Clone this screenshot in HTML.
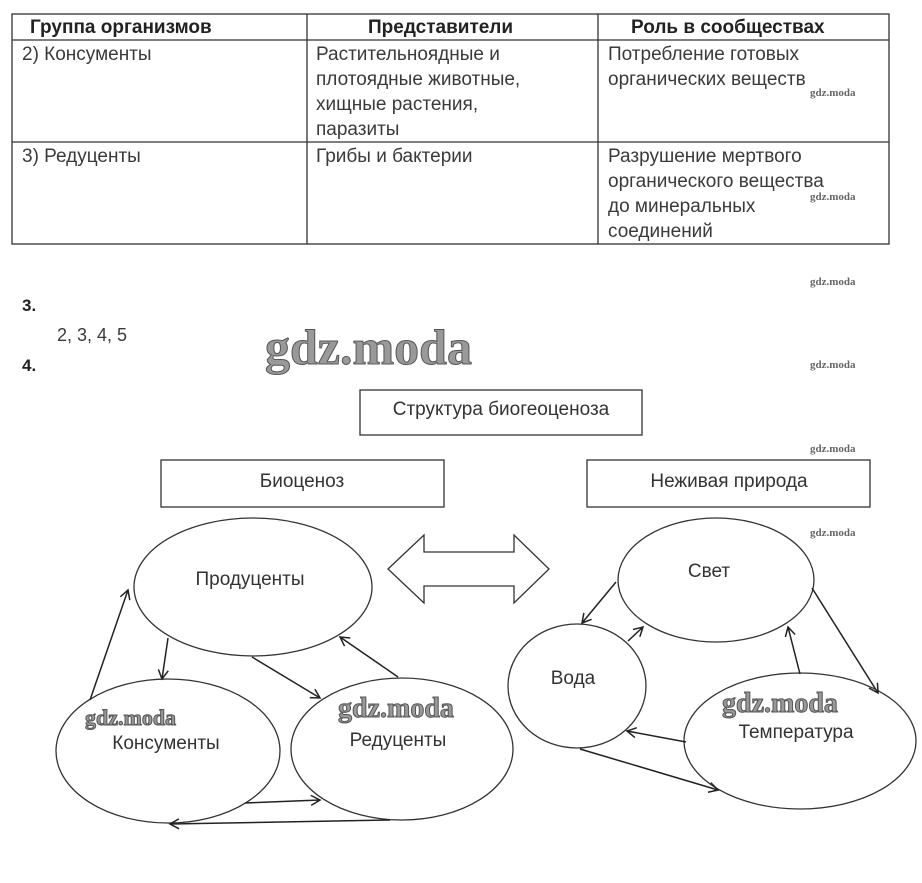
<!DOCTYPE html>
<html><head><meta charset="utf-8"><style>
body{margin:0;background:#fff;width:922px;height:883px;overflow:hidden;position:relative;font-family:"Liberation Sans",sans-serif;color:#333}
.t{position:absolute;font-size:19px;line-height:25px;color:#3a3a3a}
.wm{position:absolute;font-family:"Liberation Serif",serif;font-size:11px;color:#666;font-weight:bold}
.big{position:absolute;font-family:"Liberation Serif",serif;font-weight:bold;color:#999;-webkit-text-stroke:1px #555}
</style></head><body>
<svg width="922" height="883" style="position:absolute;left:0;top:0" font-family="Liberation Sans, sans-serif">
<defs><marker id="a" markerWidth="12" markerHeight="12" refX="10" refY="6" orient="auto" markerUnits="userSpaceOnUse"><path d="M1,1 L10,6 L1,11" fill="none" stroke="#222" stroke-width="1.5"/></marker></defs>
<g stroke="#333" stroke-width="1.3" fill="none">
<rect x="12" y="14" width="877" height="230"/>
<line x1="12" y1="40" x2="889" y2="40"/>
<line x1="12" y1="142" x2="889" y2="142"/>
<line x1="307" y1="14" x2="307" y2="244"/>
<line x1="598" y1="14" x2="598" y2="244"/>
<rect x="360" y="390" width="282" height="45"/>
<rect x="161" y="460" width="283" height="47"/>
<rect x="587" y="460" width="283" height="47"/>
<ellipse cx="253" cy="587" rx="119" ry="69"/>
<ellipse cx="168" cy="751" rx="112" ry="72"/>
<ellipse cx="402" cy="749" rx="111" ry="71"/>
<ellipse cx="716" cy="580" rx="98" ry="62"/>
<ellipse cx="577" cy="686" rx="69" ry="62"/>
<ellipse cx="800" cy="741" rx="116" ry="68"/>
<path d="M388,569 L424,535 L424,552 L514,552 L514,535 L549,569 L514,603 L514,586 L424,586 L424,603 Z"/>
</g>
<g stroke="#222" stroke-width="1.5" fill="none" marker-end="url(#a)">
<line x1="90" y1="700" x2="128" y2="590"/>
<line x1="168" y1="638" x2="162" y2="679"/>
<line x1="252" y1="657" x2="320" y2="698"/>
<line x1="398" y1="677" x2="340" y2="637"/>
<line x1="245" y1="803" x2="320" y2="800"/>
<line x1="390" y1="820" x2="170" y2="824"/>
<line x1="616" y1="582" x2="582" y2="623"/>
<line x1="628" y1="641" x2="643" y2="627"/>
<line x1="800" y1="674" x2="788" y2="627"/>
<line x1="812" y1="588" x2="878" y2="693"/>
<line x1="686" y1="742" x2="627" y2="731"/>
<line x1="580" y1="749" x2="718" y2="790"/>
</g>
<g font-size="19" fill="#333" text-anchor="middle">
<text x="501" y="415">Структура биогеоценоза</text>
<text x="302" y="487">Биоценоз</text>
<text x="729" y="487">Неживая природа</text>
<text x="250" y="585">Продуценты</text>
<text x="166" y="749">Консументы</text>
<text x="398" y="746">Редуценты</text>
<text x="709" y="577">Свет</text>
<text x="573" y="684">Вода</text>
<text x="796" y="738">Температура</text>
</g>
</svg>
<div class="t" style="left:30px;top:15px;font-weight:bold;color:#222">Группа организмов</div>
<div class="t" style="left:368px;top:15px;font-weight:bold;color:#222">Представители</div>
<div class="t" style="left:631px;top:15px;font-weight:bold;color:#222">Роль в сообществах</div>
<div class="t" style="left:22px;top:42px">2) Консументы</div>
<div class="t" style="left:316px;top:42px">Растительноядные и<br>плотоядные животные,<br>хищные растения,<br>паразиты</div>
<div class="t" style="left:608px;top:42px">Потребление готовых<br>органических веществ</div>
<div class="t" style="left:22px;top:144px">3) Редуценты</div>
<div class="t" style="left:316px;top:144px">Грибы и бактерии</div>
<div class="t" style="left:608px;top:144px">Разрушение мертвого<br>органического вещества<br>до минеральных<br>соединений</div>
<div class="t" style="left:22px;top:293px;font-weight:bold;font-size:17px;color:#222">3.</div>
<div class="t" style="left:57px;top:323px;font-size:18px">2, 3, 4, 5</div>
<div class="t" style="left:22px;top:353px;font-weight:bold;font-size:17px;color:#222">4.</div>
<div class="wm" style="left:810px;top:87px">gdz.moda</div>
<div class="wm" style="left:810px;top:191px">gdz.moda</div>
<div class="wm" style="left:810px;top:276px">gdz.moda</div>
<div class="wm" style="left:810px;top:359px">gdz.moda</div>
<div class="wm" style="left:810px;top:443px">gdz.moda</div>
<div class="wm" style="left:810px;top:527px">gdz.moda</div>
<div class="big" style="left:265px;top:318px;font-size:50px">gdz.moda</div>
<div class="big" style="left:85px;top:705px;font-size:22px">gdz.moda</div>
<div class="big" style="left:338px;top:693px;font-size:28px">gdz.moda</div>
<div class="big" style="left:722px;top:688px;font-size:28px">gdz.moda</div>
</body></html>
